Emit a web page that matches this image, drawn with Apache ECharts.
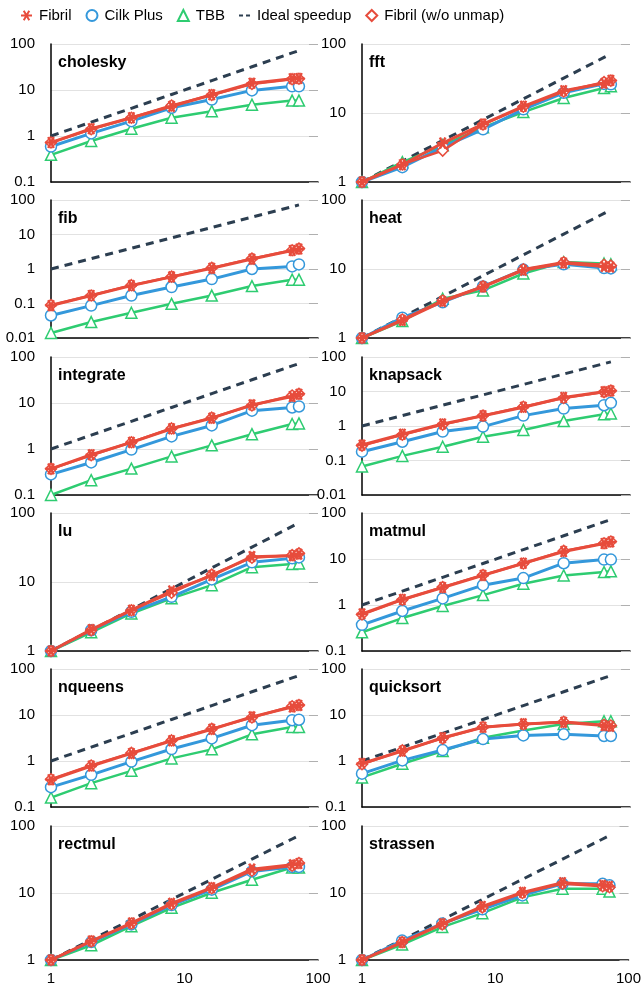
<!DOCTYPE html>
<html><head><meta charset="utf-8">
<script src="https://cdn.jsdelivr.net/npm/echarts@6/dist/echarts.min.js"></script>
<style>html,body{margin:0;padding:0;background:#fff}#c{width:644px;height:986px}</style>
</head><body><div id="c"></div>
<script>
const threads = [1, 2, 4, 8, 16, 32, 64, 72];
const idealSpeedup = [1, 2, 4, 8, 16, 32, 64, 72];
const benchmarks = ['cholesky','fft','fib','heat','integrate','knapsack','lu','matmul','nqueens','quicksort','rectmul','strassen'];
const yMinimums = [0.1, 1, 0.01, 1, 0.1, 0.01, 1, 0.1, 0.1, 0.1, 1, 1];
const yMaximum = 100;
const xTickLabels = ['1', '10', '100'];

const choleskyFibril = [0.72,1.44,2.5,4.4,7.9,14,17.6,17.8];
const choleskyCilk = [0.59,1.14,2.1,4.1,6.2,9.8,12,12];
const choleskyTBB = [0.39,0.78,1.44,2.5,3.46,4.8,5.9,5.9];
const choleskyNoUnmap = [0.72,1.4,2.5,4.6,7.8,13.5,17.2,17.6];

const fftFibril = [1,1.78,3.67,6.9,12.5,21,27,29.7];
const fftCilk = [1,1.64,3.2,5.8,11.3,19.6,26.4,26];
const fftTBB = [1,1.94,3.4,6.2,10.3,16.5,23,24.5];
const fftNoUnmap = [1,1.8,2.85,6.8,12.3,20.5,28,29.5];

const fibFibril = [0.087,0.17,0.33,0.59,1.05,1.94,3.45,3.8];
const fibCilk = [0.045,0.087,0.17,0.30,0.51,1.0,1.19,1.36];
const fibTBB = [0.014,0.029,0.054,0.098,0.17,0.32,0.49,0.49];
const fibNoUnmap = [0.09,0.17,0.34,0.6,1.08,2.0,3.5,3.9];

const heatFibril = [1,1.8,3.4,5.5,9.6,12.2,10.9,10.7];
const heatCilk = [1,1.97,3.3,5.6,9.8,11.7,10.3,10.2];
const heatTBB = [1,1.76,3.7,4.9,8.6,12.6,12,11.7];
const heatNoUnmap = [1,1.85,3.5,5.6,9.9,12.5,11.5,11.2];

const integrateFibril = [0.37,0.75,1.39,2.76,4.7,9.1,13.8,15.5];
const integrateCilk = [0.28,0.51,0.97,1.88,3.25,6.8,8.0,8.4];
const integrateTBB = [0.10,0.21,0.375,0.69,1.2,2.1,3.5,3.6];
const integrateNoUnmap = [0.37,0.73,1.4,2.8,4.8,8.8,14.5,15.8];

const knapsackFibril = [0.28,0.575,1.14,1.99,3.5,6.7,9.8,10.4];
const knapsackCilk = [0.18,0.35,0.69,0.96,2.0,3.2,4.0,4.7];
const knapsackTBB = [0.067,0.136,0.25,0.49,0.77,1.39,2.2,2.3];
const knapsackNoUnmap = [0.27,0.56,1.1,2.0,3.6,6.5,9.6,10.6];

const luFibril = [1,2.04,3.9,7.4,12.4,23.3,24,25.4];
const luCilk = [1,2.0,3.7,6.1,10.9,19.3,22,22.7];
const luTBB = [1,1.87,3.5,5.8,9.0,16.4,18.3,18.6];
const luNoUnmap = [1,2.0,3.9,7.0,12.8,22.5,24.5,26];

const matmulFibril = [0.64,1.32,2.4,4.4,8.1,14.6,21.7,23.5];
const matmulCilk = [0.37,0.74,1.39,2.7,3.85,8.1,9.7,9.7];
const matmulTBB = [0.255,0.52,0.95,1.64,2.9,4.4,5.2,5.4];
const matmulNoUnmap = [0.62,1.3,2.45,4.5,8.0,15,22,24];

const nqueensFibril = [0.39,0.78,1.46,2.75,4.9,9.1,14.9,16.2];
const nqueensCilk = [0.27,0.5,0.97,1.82,3.1,6.0,7.7,7.9];
const nqueensTBB = [0.16,0.33,0.61,1.14,1.79,3.8,5.5,5.5];
const nqueensNoUnmap = [0.4,0.8,1.5,2.8,5.0,8.8,15.5,16.5];

const quicksortFibril = [0.88,1.64,3.2,5.4,6.4,6.95,5.9,5.7];
const quicksortCilk = [0.53,1.03,1.73,3.0,3.6,3.8,3.5,3.5];
const quicksortTBB = [0.44,0.87,1.64,3.2,4.6,6.4,7.3,7.3];
const quicksortNoUnmap = [0.85,1.7,3.1,5.5,6.3,7.1,6.1,5.9];

const rectmulFibril = [1,1.92,3.56,7.0,12,22.7,26.3,27.5];
const rectmulCilk = [1,1.85,3.4,6.6,11.2,21,24.5,24.5];
const rectmulTBB = [1,1.66,3.2,6.0,10.1,15.8,24,24];
const rectmulNoUnmap = [1,1.9,3.5,6.8,11.8,21.5,25.5,28];

const strassenFibril = [1,1.83,3.47,6.3,10.2,14.2,13,12.5];
const strassenCilk = [1,1.95,3.5,5.7,9.2,13.7,13.7,13];
const strassenTBB = [1,1.7,3.1,5.0,8.6,11.6,11.6,10.5];
const strassenNoUnmap = [1,1.85,3.4,6.1,10,13.8,12.6,12.2];

const fibrilSeries = [choleskyFibril, fftFibril, fibFibril, heatFibril, integrateFibril, knapsackFibril, luFibril, matmulFibril, nqueensFibril, quicksortFibril, rectmulFibril, strassenFibril];
const cilkSeries = [choleskyCilk, fftCilk, fibCilk, heatCilk, integrateCilk, knapsackCilk, luCilk, matmulCilk, nqueensCilk, quicksortCilk, rectmulCilk, strassenCilk];
const tbbSeries = [choleskyTBB, fftTBB, fibTBB, heatTBB, integrateTBB, knapsackTBB, luTBB, matmulTBB, nqueensTBB, quicksortTBB, rectmulTBB, strassenTBB];
const noUnmapSeries = [choleskyNoUnmap, fftNoUnmap, fibNoUnmap, heatNoUnmap, integrateNoUnmap, knapsackNoUnmap, luNoUnmap, matmulNoUnmap, nqueensNoUnmap, quicksortNoUnmap, rectmulNoUnmap, strassenNoUnmap];

const RED = '#e74c3c', BLUE = '#3498db', GREEN = '#2ecc71', DARK = '#2c3e50';
const FONT = '"Liberation Sans", Arial, Helvetica, sans-serif';
const ASTER = 'path://M0,5 L10,5 M2.5,0.67 L7.5,9.33 M2.5,9.33 L7.5,0.67';
const DASHICON = 'path://M0,4 L4,4 L4,6 L0,6 Z M7,4 L11,4 L11,6 L7,6 Z';

const colLeft = [51, 362];
const colWidth = [267, 268];
const rowTop = [44, 200, 357, 513, 669, 826];
const rowHeight = 138;

const grid = [], xAxis = [], yAxis = [], series = [], title = [];
const pts = arr => threads.map((t, i) => [t, arr[i]]);

benchmarks.forEach((name, k) => {
  const col = k % 2, row = Math.floor(k / 2);
  const isBottom = row === 5;
  grid.push({ left: colLeft[col], top: rowTop[row], width: colWidth[col], height: rowHeight });
  title.push({ text: name, left: colLeft[col] + 7, top: rowTop[row] + 11, padding: 0,
    textStyle: { fontFamily: FONT, fontSize: 16, fontWeight: 'bold', color: '#000' } });
  xAxis.push({ type: 'log', logBase: 10, min: 1, max: 100, gridIndex: k,
    axisLine: { show: true, lineStyle: { color: '#000', width: 1.5 } },
    axisTick: { show: false }, splitLine: { show: false },
    axisLabel: { show: isBottom, fontFamily: FONT, fontSize: 15, color: '#000', margin: 11,
      formatter: v => { const i = Math.round(Math.log10(v)); return xTickLabels[i] !== undefined ? xTickLabels[i] : ''; } } });
  yAxis.push({ type: 'log', logBase: 10, min: yMinimums[k], max: yMaximum, gridIndex: k,
    axisLine: { show: true, lineStyle: { color: '#000', width: 1.5 } },
    axisTick: { show: false },
    splitLine: { show: true, lineStyle: { color: '#e2e2e2', width: 1 } },
    axisLabel: { fontFamily: FONT, fontSize: 15, color: '#000', margin: 16,
      formatter: v => String(+v.toPrecision(3)) } });
  yAxis.push({ type: 'log', logBase: 10, min: yMinimums[k], max: yMaximum, gridIndex: k, position: 'right',
    axisLine: { show: false }, axisLabel: { show: false }, splitLine: { show: false },
    axisTick: { show: true, inside: true, length: 9, lineStyle: { color: '#b0b0b0', width: 1 } } });
  const yi = k * 2;
  series.push({ name: 'Ideal speedup', type: 'line', xAxisIndex: k, yAxisIndex: yi, data: pts(idealSpeedup),
    showSymbol: false, symbol: 'none', lineStyle: { color: DARK, width: 3, type: [8, 6] }, itemStyle: { color: DARK }, z: 2 });
  series.push({ name: 'TBB', type: 'line', xAxisIndex: k, yAxisIndex: yi, data: pts(tbbSeries[k]),
    symbol: 'triangle', symbolSize: 11, lineStyle: { color: GREEN, width: 2.5 },
    itemStyle: { color: '#fff', borderColor: GREEN, borderWidth: 1.5 }, z: 3 });
  series.push({ name: 'Cilk Plus', type: 'line', xAxisIndex: k, yAxisIndex: yi, data: pts(cilkSeries[k]),
    symbol: 'circle', symbolSize: 11, lineStyle: { color: BLUE, width: 3 },
    itemStyle: { color: '#fff', borderColor: BLUE, borderWidth: 1.5 }, z: 4 });
  series.push({ name: 'Fibril (w/o unmap)', type: 'line', xAxisIndex: k, yAxisIndex: yi, data: pts(noUnmapSeries[k]),
    symbol: 'diamond', symbolSize: 11, lineStyle: { color: RED, width: 2.5 },
    itemStyle: { color: '#fff', borderColor: RED, borderWidth: 1.5 }, z: 5 });
  series.push({ name: 'Fibril', type: 'line', xAxisIndex: k, yAxisIndex: yi, data: pts(fibrilSeries[k]),
    symbol: ASTER, symbolSize: 11, lineStyle: { color: RED, width: 3 },
    itemStyle: { color: RED, borderColor: RED, borderWidth: 2.5 }, z: 6 });
});

const chart = echarts.init(document.getElementById('c'), null, { renderer: 'canvas' });
chart.setOption({
  animation: false,
  backgroundColor: '#fff',
  title: title,
  legend: {
    left: 15, top: 3, itemWidth: 11, itemHeight: 11, itemGap: 14,
    textStyle: { fontFamily: FONT, fontSize: 15, color: '#000', padding: [0, 0, 0, 2] },
    data: [
      { name: 'Fibril', icon: ASTER, itemStyle: { color: RED, borderColor: RED, borderWidth: 2 } },
      { name: 'Cilk Plus', icon: 'circle', itemStyle: { color: '#fff', borderColor: BLUE, borderWidth: 2 } },
      { name: 'TBB', icon: 'triangle', itemStyle: { color: '#fff', borderColor: GREEN, borderWidth: 2 } },
      { name: 'Ideal speedup', icon: DASHICON, itemStyle: { color: DARK, borderWidth: 0 } },
      { name: 'Fibril (w/o unmap)', icon: 'diamond', itemStyle: { color: '#fff', borderColor: RED, borderWidth: 2 } }
    ]
  },
  grid: grid, xAxis: xAxis, yAxis: yAxis, series: series
});
</script></body></html>
